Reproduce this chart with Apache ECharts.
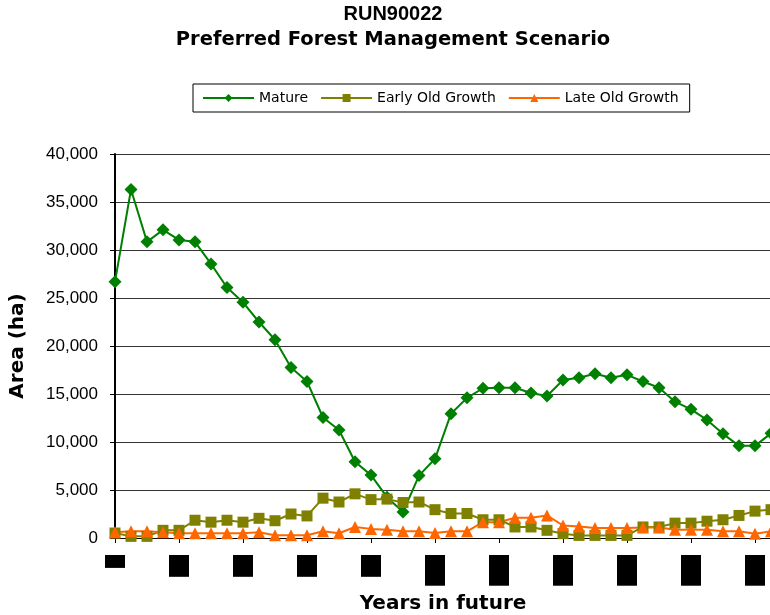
<!DOCTYPE html>
<html>
<head>
<meta charset="utf-8">
<script src="https://cdn.jsdelivr.net/npm/echarts@6/dist/echarts.min.js"></script>
<style>
  html, body { margin: 0; padding: 0; background: #fff; }
  #chart { width: 770px; height: 615px; }
</style>
</head>
<body>
<div id="chart"></div>
<script>
// years in future, one point every 5 years (the last one runs past the right edge)
const years = [
  0, 5, 10, 15, 20, 25, 30, 35, 40, 45, 50, 55, 60, 65, 70, 75, 80, 85, 90, 95,
  100, 105, 110, 115, 120, 125, 130, 135, 140, 145, 150, 155, 160, 165, 170, 175,
  180, 185, 190, 195, 200, 205
];

const mature = [
  26700, 36300, 30850, 32100, 31050, 30850, 28550, 26100, 24550, 22500,
  20650, 17750, 16300, 12550, 11250, 7950, 6550, 4250, 2700, 6500,
  8250, 12950, 14600, 15600, 15650, 15650, 15100, 14800, 16450, 16700,
  17100, 16700, 17000, 16300, 15650, 14200, 13400, 12300, 10850, 9600,
  9600, 10900
];

const earlyOldGrowth = [
  520, 170, 170, 800, 800, 1850, 1650, 1850, 1650, 2050,
  1800, 2500, 2300, 4150, 3750, 4600, 4000, 4050, 3700, 3750,
  2950, 2550, 2550, 1900, 1900, 1150, 1150, 800, 450, 270,
  270, 270, 270, 1150, 1150, 1550, 1550, 1750, 1900, 2350,
  2800, 2950
];

const lateOldGrowth = [
  600, 700, 700, 600, 500, 500, 500, 500, 500, 600,
  280, 280, 280, 700, 500, 1150, 950, 850, 700, 700,
  520, 700, 700, 1650, 1650, 2100, 2100, 2350, 1300, 1200,
  1050, 1050, 1050, 1100, 1100, 850, 850, 850, 700, 700,
  450, 700
];

const chart = echarts.init(document.getElementById('chart'));
const font = 'Liberation Sans, Arial, sans-serif';
const wide = 'DejaVu Sans, sans-serif';

function lineSeries(name, data, color, symbol, size) {
  return {
    name,
    type: 'line',
    data,
    symbol,
    symbolSize: size,
    showAllSymbol: true,
    clip: false,
    lineStyle: { color, width: 2 },
    itemStyle: { color, borderWidth: 0 },
  };
}

chart.setOption({
  animation: false,
  title: {
    text: 'RUN90022',
    subtext: 'Preferred Forest Management Scenario',
    left: 393,
    textAlign: 'center',
    top: 4,
    padding: 0,
    itemGap: 6,
    textStyle: { fontFamily: font, fontSize: 20, fontWeight: 'bold', color: '#000', lineHeight: 20 },
    subtextStyle: { fontFamily: wide, fontSize: 19.5, fontWeight: 'bold', color: '#000', lineHeight: 20 },
  },
  legend: {
    left: 193,
    top: 84,
    padding: [7, 11, 7, 9],
    itemGap: 12,
    itemWidth: 51,
    itemHeight: 10,
    borderColor: '#000',
    borderWidth: 1,
    textStyle: { fontFamily: wide, fontSize: 14, color: '#000' },
    data: ['Mature', 'Early Old Growth', 'Late Old Growth'],
  },
  grid: { left: 115, right: -1, top: 154, bottom: 77, outerBoundsMode: 'none' },
  xAxis: {
    type: 'category',
    data: years,
    boundaryGap: false,
    name: 'Years in future',
    nameLocation: 'middle',
    nameGap: 53,
    nameTextStyle: { fontFamily: wide, fontSize: 20, fontWeight: 'bold', color: '#000' },
    axisLine: { lineStyle: { color: '#000', width: 1 } },
    axisTick: { interval: 3, length: 5, lineStyle: { color: '#000' } },
    axisLabel: {
      interval: 3,
      rotate: 90,
      margin: 17,
      fontFamily: wide,
      fontSize: 14,
      color: '#000',
      backgroundColor: '#000',
      padding: [3, 2, 3, 2],
    },
  },
  yAxis: {
    type: 'value',
    min: 0,
    max: 40000,
    interval: 5000,
    name: 'Area (ha)',
    nameLocation: 'middle',
    nameRotate: 90,
    nameGap: 87,
    nameTextStyle: { fontFamily: wide, fontSize: 20, fontWeight: 'bold', color: '#000' },
    axisLine: { show: true, lineStyle: { color: '#000', width: 2 } },
    axisTick: { show: true, length: 5, lineStyle: { color: '#000' } },
    axisLabel: {
      margin: 17,
      fontFamily: font,
      fontSize: 17,
      color: '#000',
      formatter: (v) => v.toLocaleString('en-US'),
    },
    splitLine: { lineStyle: { color: '#333', width: 1 } },
  },
  series: [
    lineSeries('Mature', mature, '#008000', 'diamond', 13),
    lineSeries('Early Old Growth', earlyOldGrowth, '#808000', 'rect', 11),
    lineSeries('Late Old Growth', lateOldGrowth, '#FF6600', 'triangle', 12),
  ],
});
</script>
</body>
</html>
